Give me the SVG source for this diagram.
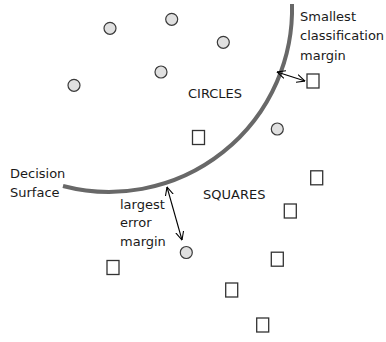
<svg xmlns="http://www.w3.org/2000/svg" width="386" height="342" viewBox="0 0 386 342">
<style>
.c{fill:#e0e0e0;stroke:#3a3a3a;stroke-width:1.2}
.s{fill:#fff;stroke:#333;stroke-width:1.3}
.t{font-family:"DejaVu Sans",sans-serif;font-size:13px;fill:#1a1a1a}
.a{fill:none;stroke:#000;stroke-width:1.1}
</style>
<defs>
<marker id="v" viewBox="0 0 10 10" refX="9.5" refY="5" markerWidth="9" markerHeight="9" markerUnits="userSpaceOnUse" orient="auto-start-reverse">
<path d="M0,0.5 L9.5,5 L0,9.5" fill="none" stroke="#000" stroke-width="1.2"/>
</marker>
</defs>
<rect width="386" height="342" fill="#fff"/>
<g id="surface">
<path d="M63,186 A183,183 0 0 0 292,4" fill="none" stroke="#686868" stroke-width="4"/>
</g>
<g id="circles">
<circle id="c1" class="c" cx="110" cy="28.3" r="6"/>
<circle id="c2" class="c" cx="171.7" cy="19.3" r="6"/>
<circle id="c3" class="c" cx="161" cy="72" r="6"/>
<circle id="c4" class="c" cx="74" cy="85.3" r="6"/>
<circle id="c5" class="c" cx="223.3" cy="42.3" r="6"/>
<circle id="c6" class="c" cx="277.3" cy="129" r="6"/>
<circle id="c7" class="c" cx="186.3" cy="252.5" r="6"/>
</g>
<g id="squares">
<rect id="s1" class="s" x="307" y="74" width="12" height="14"/>
<rect id="s2" class="s" x="192.5" y="130.5" width="12" height="14"/>
<rect id="s3" class="s" x="107" y="260.5" width="12" height="14"/>
<rect id="s4" class="s" x="310.7" y="170.8" width="12" height="14"/>
<rect id="s5" class="s" x="284.3" y="204" width="12" height="14"/>
<rect id="s6" class="s" x="271.3" y="252.2" width="12" height="14"/>
<rect id="s7" class="s" x="225.7" y="283" width="12" height="14"/>
<rect id="s8" class="s" x="256.7" y="318" width="12" height="14"/>
</g>
<g id="connectors">
<line class="a" x1="277" y1="72" x2="305" y2="81" marker-start="url(#v)" marker-end="url(#v)"/>
<line class="a" x1="167" y1="187" x2="182" y2="240" marker-start="url(#v)" marker-end="url(#v)"/>
</g>
<g id="labels">
<text class="t" x="300" y="20.5">Smallest</text>
<text class="t" x="300" y="40">classification</text>
<text class="t" x="300" y="59.5">margin</text>
<text class="t" x="188" y="98">CIRCLES</text>
<text class="t" x="203" y="199">SQUARES</text>
<text class="t" x="10" y="178.3">Decision</text>
<text class="t" x="10" y="196.7">Surface</text>
<text class="t" x="120" y="208.5">largest</text>
<text class="t" x="120" y="227">error</text>
<text class="t" x="120" y="245.5">margin</text>
</g>
</svg>
